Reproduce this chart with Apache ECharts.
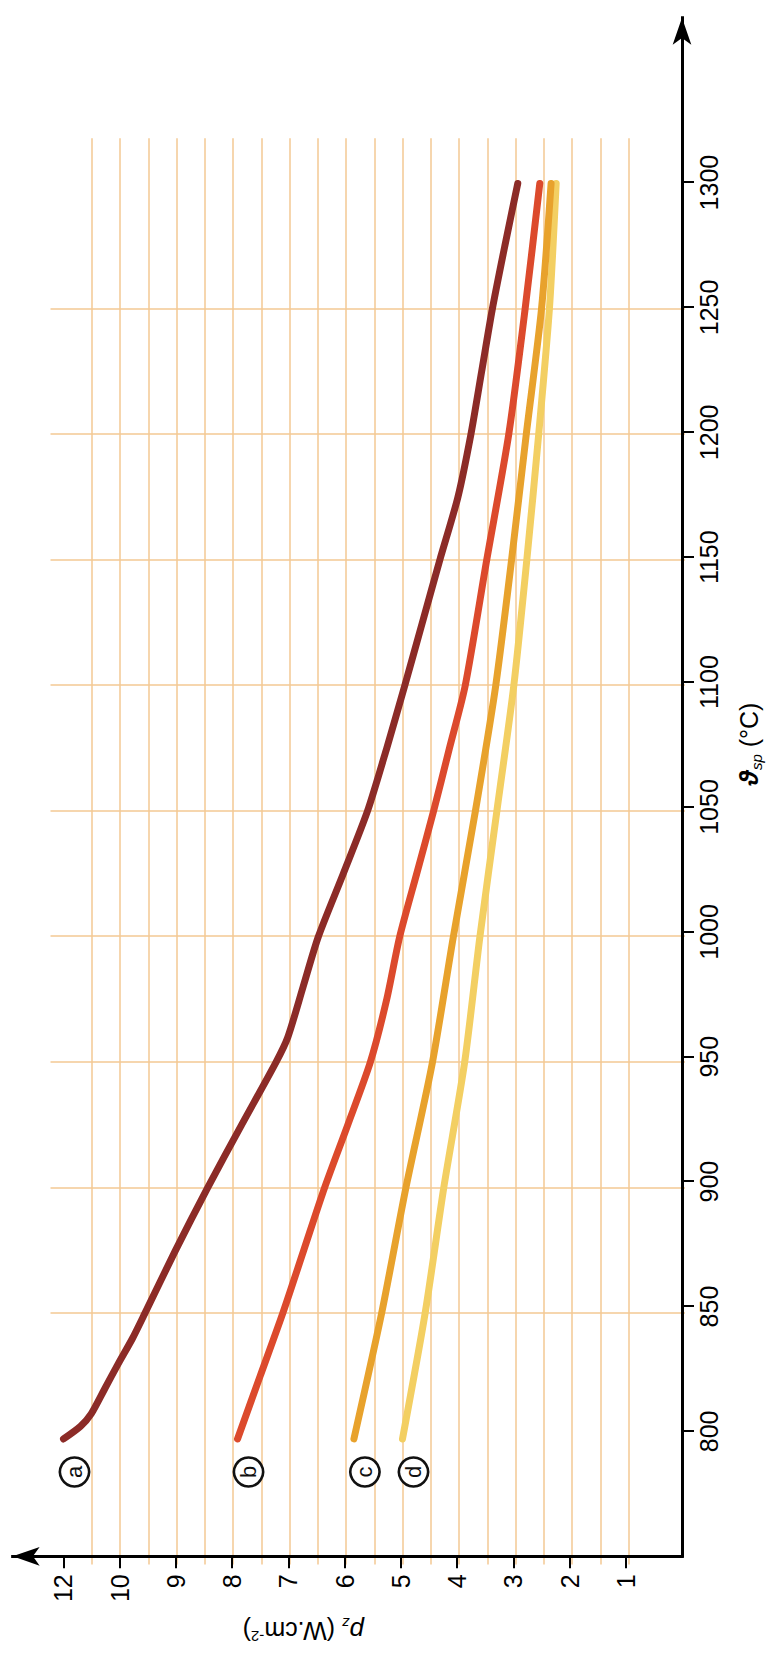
<!DOCTYPE html>
<html>
<head>
<meta charset="utf-8">
<title>Surface load vs. temperature</title>
<script src="https://cdn.jsdelivr.net/npm/echarts@6/dist/echarts.min.js"></script>
<style>
  html, body { margin: 0; padding: 0; background: #ffffff; }
  body { width: 772px; height: 1657px; overflow: hidden; position: relative; }
  /* The chart is laid out landscape and turned a quarter turn counter-clockwise. */
  #chart {
    position: absolute; left: 0; top: 0;
    width: 1657px; height: 772px;
    transform-origin: 0 0;
    transform: translateY(1657px) rotate(-90deg);
  }
</style>
</head>
<body>
<div id="chart"></div>
<script>
// ---- data -------------------------------------------------------------
const tempTicks = [800, 850, 900, 950, 1000, 1050, 1100, 1150, 1200, 1250, 1300];
const pzTickValues = [1, 2, 3, 4, 5, 6, 7, 8, 9, 10, 11];
const pzTickLabels = ['1', '2', '3', '4', '5', '6', '7', '8', '9', '10', '12'];
const curveNames = ['a', 'b', 'c', 'd'];

const curveA = [
  [800, 11.00], [805, 10.70], [810, 10.51], [820, 10.27], [830, 10.03], [840, 9.78],
  [850, 9.56], [875, 9.02], [900, 8.45], [925, 7.85], [950, 7.24], [960, 7.03],
  [980, 6.76], [1000, 6.49], [1025, 6.05], [1050, 5.62], [1075, 5.28], [1100, 4.96],
  [1125, 4.65], [1150, 4.34], [1175, 4.02], [1200, 3.79], [1225, 3.60], [1250, 3.41],
  [1275, 3.19], [1300, 2.96]
];
const curveB = [
  [800, 7.92], [825, 7.52], [850, 7.12], [875, 6.75], [900, 6.38], [925, 5.97],
  [950, 5.57], [975, 5.28], [1000, 5.05], [1025, 4.75], [1050, 4.45], [1075, 4.17],
  [1100, 3.89], [1150, 3.51], [1200, 3.12], [1250, 2.83], [1300, 2.57]
];
const curveC = [
  [800, 5.86], [850, 5.37], [900, 4.94], [950, 4.47], [1000, 4.10], [1050, 3.71],
  [1100, 3.35], [1150, 3.07], [1200, 2.81], [1250, 2.54], [1300, 2.37]
];
const curveD = [
  [800, 5.00], [850, 4.60], [900, 4.27], [950, 3.90], [1000, 3.63], [1050, 3.33],
  [1100, 3.03], [1150, 2.80], [1200, 2.59], [1250, 2.40], [1300, 2.28]
];
const curveColors = ['#8c2b27', '#dc4a2c', '#e8a22c', '#f3cf62'];

// ---- layout -----------------------------------------------------------
const W = 1657, H = 772;
const FONT = "'Liberation Sans', Arial, Helvetica, sans-serif";
const GRID_COLOR = '#f3c893';
const PX_PER_DEG = 2.511;      // horizontal scale of the temperature axis
const PX_PER_PZ = 56.5;        // vertical scale of the power-density axis
const LEFT = 92.5, BOTTOM = 87;

const TEMP_MIN = 750, TEMP_GRID_MAX = 1318, TEMP_AXIS_MAX = 1366;
const PZ_MIN = 0, PZ_GRID_MAX = 11.23, PZ_AXIS_MAX = 11.9;

function gridBox(tMax, pMax) {
  const w = (tMax - TEMP_MIN) * PX_PER_DEG;
  const h = (pMax - PZ_MIN) * PX_PER_PZ;
  return { left: LEFT, bottom: BOTTOM, right: W - LEFT - w, top: H - BOTTOM - h };
}

// half-unit ruling of the power-density axis
const pzGridLines = pzTickValues.flatMap(v => [v - 0.5, v]);

const curves = [curveA, curveB, curveC, curveD];

const lineSeries = curves.map((data, i) => ({
  type: 'line',
  name: curveNames[i],
  xAxisIndex: 0,
  yAxisIndex: 0,
  data: data,
  smooth: 0.25,
  symbol: 'none',
  lineStyle: { color: curveColors[i], width: 7, cap: 'round', join: 'round' },
  z: 3 + (i === 3 ? 0 : 3 - i),
  silent: true
}));

// circled curve letters, placed just off each curve's starting point
const letterSeries = {
  type: 'scatter',
  xAxisIndex: 0,
  yAxisIndex: 0,
  data: curves.map((data, i) => ({ value: data[0], name: curveNames[i] })),
  symbol: 'circle',
  symbolSize: 29,
  symbolOffset: [-33, 11],
  itemStyle: { color: '#ffffff', borderColor: '#111111', borderWidth: 2.6, opacity: 1 },
  label: {
    show: true, position: 'inside', formatter: p => p.name,
    fontFamily: FONT, fontSize: 22, color: '#111111'
  },
  z: 6,
  silent: true
};

const axisArrow = {
  show: true, onZero: false, symbol: ['none', 'arrow'], symbolSize: [14, 27],
  lineStyle: { color: '#000000', width: 3, cap: 'square' }
};

const option = {
  backgroundColor: '#ffffff',
  animation: false,
  grid: [gridBox(TEMP_GRID_MAX, PZ_GRID_MAX), gridBox(TEMP_AXIS_MAX, PZ_AXIS_MAX)],
  xAxis: [
    {
      gridIndex: 0, type: 'value', min: TEMP_MIN, max: TEMP_GRID_MAX, interval: 50,
      axisLine: { show: false },
      axisTick: { show: false, customValues: tempTicks },
      axisLabel: { show: false },
      splitLine: { show: true, showMinLine: false, showMaxLine: false,
                   lineStyle: { color: GRID_COLOR, width: 1.5 } }
    },
    {
      gridIndex: 1, type: 'value', min: TEMP_MIN, max: TEMP_AXIS_MAX,
      axisLine: axisArrow,
      axisTick: { show: true, customValues: tempTicks, length: 12, lineStyle: { color: '#000000', width: 2 } },
      axisLabel: {
        show: true, customValues: tempTicks, margin: 14,
        fontFamily: FONT, fontSize: 25, color: '#000000',
        formatter: v => String(v)
      },
      splitLine: { show: false },
      name: '{th|ϑ}{sub|sp} (°C)',
      nameLocation: 'middle',
      nameGap: 49,
      nameTextStyle: {
        fontFamily: FONT, fontSize: 25, color: '#000000', lineHeight: 36,
        padding: [0, 0, 0, 86],
        rich: {
          th: { fontFamily: FONT, fontSize: 26, fontWeight: 'bold', fontStyle: 'italic', color: '#000000' },
          sub: { fontFamily: FONT, fontSize: 15, fontStyle: 'italic', color: '#000000',
                 verticalAlign: 'bottom', padding: [0, 0, 3, 0] }
        }
      }
    }
  ],
  yAxis: [
    {
      gridIndex: 0, type: 'value', min: PZ_MIN, max: PZ_GRID_MAX, interval: 0.5,
      axisLine: { show: false },
      axisTick: { show: false, customValues: pzGridLines },
      axisLabel: { show: false },
      splitLine: { show: true, showMinLine: false, showMaxLine: false,
                   lineStyle: { color: GRID_COLOR, width: 1.5 } }
    },
    {
      gridIndex: 1, type: 'value', min: PZ_MIN, max: PZ_AXIS_MAX,
      axisLine: axisArrow,
      axisTick: { show: true, customValues: pzTickValues, length: 12, lineStyle: { color: '#000000', width: 2 } },
      axisLabel: {
        show: true, customValues: pzTickValues, margin: 18,
        fontFamily: FONT, fontSize: 25, color: '#000000',
        formatter: v => pzTickLabels[pzTickValues.indexOf(v)]
      },
      splitLine: { show: false },
      name: '{p|p}{z|z} (W.cm{sup|-2})',
      nameLocation: 'middle',
      nameRotate: 90,
      nameGap: 54,
      nameTextStyle: {
        fontFamily: FONT, fontSize: 25, color: '#000000', lineHeight: 36,
        padding: [0, 0, 0, 88],
        rich: {
          p: { fontFamily: FONT, fontSize: 26, fontStyle: 'italic', color: '#000000' },
          z: { fontFamily: FONT, fontSize: 15, fontStyle: 'italic', color: '#000000',
               verticalAlign: 'bottom', padding: [0, 0, 3, 0] },
          sup: { fontFamily: FONT, fontSize: 15, color: '#000000',
                 verticalAlign: 'top', padding: [5, 0, 0, 0] }
        }
      }
    }
  ],
  series: lineSeries.concat([letterSeries])
};

const chart = echarts.init(document.getElementById('chart'), null, { renderer: 'svg', width: W, height: H });
chart.setOption(option);
</script>
</body>
</html>
